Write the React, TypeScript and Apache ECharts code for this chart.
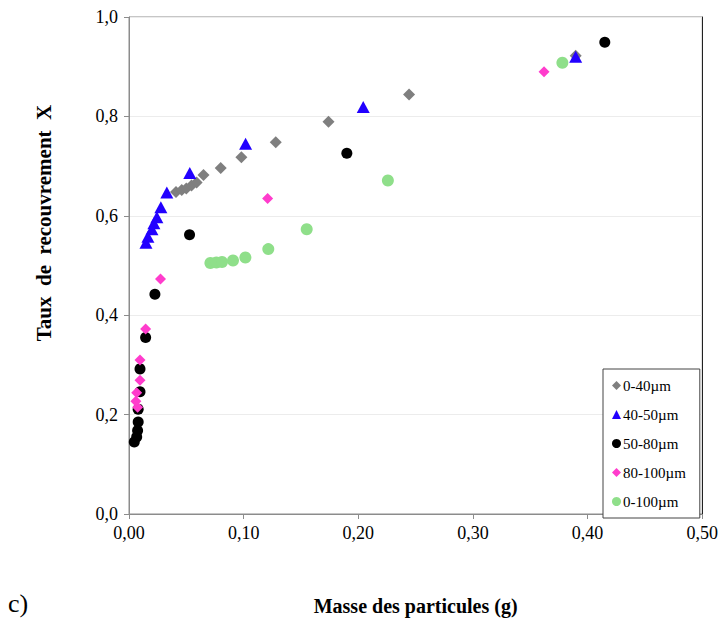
import React, { useEffect, useRef } from "react";
import * as echarts from "echarts";

const seriesNames = ["0-40µm", "40-50µm", "50-80µm", "80-100µm", "0-100µm"];

const s0_40: number[][] = [
  [0.041, 0.648], [0.046, 0.652], [0.050, 0.655], [0.0545, 0.661], [0.059, 0.667],
  [0.065, 0.682], [0.080, 0.696], [0.098, 0.718], [0.128, 0.748], [0.174, 0.789],
  [0.2443, 0.844], [0.3896, 0.922],
];
const s40_50: number[][] = [
  [0.0148, 0.546], [0.0165, 0.558], [0.020, 0.573], [0.0217, 0.585], [0.0243, 0.597],
  [0.0278, 0.617], [0.033, 0.647], [0.053, 0.686], [0.1017, 0.745], [0.2043, 0.819],
  [0.3896, 0.92],
];
const s50_80: number[][] = [
  [0.0046, 0.145], [0.0067, 0.155], [0.0075, 0.168], [0.008, 0.185], [0.008, 0.211],
  [0.0096, 0.246], [0.0096, 0.292], [0.0145, 0.355], [0.0226, 0.442], [0.0528, 0.562],
  [0.19, 0.726], [0.415, 0.949],
];
const s80_100: number[][] = [
  [0.0075, 0.215], [0.006, 0.227], [0.0067, 0.244], [0.0096, 0.269], [0.0096, 0.310],
  [0.0145, 0.372], [0.0275, 0.473], [0.1209, 0.635], [0.362, 0.890],
];
const s0_100: number[][] = [
  [0.071, 0.505], [0.0762, 0.506], [0.0811, 0.507], [0.0907, 0.510], [0.1015, 0.516],
  [0.1215, 0.533], [0.155, 0.573], [0.2258, 0.671], [0.378, 0.908],
];

const FONT = "'Liberation Serif', 'Times New Roman', serif";

export default function App() {
  const ref = useRef<HTMLDivElement>(null);
  useEffect(() => {
    if (!ref.current) return;
    const chart = echarts.init(ref.current, undefined, { renderer: "svg" });
    const mk = (name: string, data: number[][], symbol: string, size: number | number[], color: string) => ({
      name,
      type: "scatter",
      data,
      symbol,
      symbolSize: size,
      itemStyle: { color, opacity: 1 },
      emphasis: { disabled: true },
    });
    chart.setOption({
      animation: false,
      backgroundColor: "#ffffff",
      textStyle: { fontFamily: FONT },
      grid: {
        left: 129, right: 17, top: 17, bottom: 99,
        show: true, borderColor: "#8c8c8c", borderWidth: 1,
      },
      xAxis: {
        type: "value", min: 0, max: 0.5, interval: 0.1,
        name: "Masse des particules (g)", nameLocation: "middle", nameGap: 82,
        nameTextStyle: { fontFamily: FONT, fontSize: 20, fontWeight: "bold", color: "#000" },
        axisLine: { show: true, lineStyle: { color: "#8c8c8c", width: 1 } },
        axisTick: { show: true, length: 5, inside: false, lineStyle: { color: "#8c8c8c" } },
        axisLabel: {
          margin: 10, fontFamily: FONT, fontSize: 18, color: "#000",
          formatter: (v: number) => v.toFixed(2).replace(".", ","),
        },
        splitLine: { show: false },
      },
      yAxis: [
        {
          type: "value", min: 0, max: 1, interval: 0.2,
          axisLine: { show: true, lineStyle: { color: "#8c8c8c", width: 1 } },
          axisTick: { show: true, length: 5, inside: false, lineStyle: { color: "#8c8c8c" } },
          axisLabel: {
            margin: 11, fontFamily: FONT, fontSize: 18, color: "#000",
            formatter: (v: number) => v.toFixed(1).replace(".", ","),
          },
          splitLine: { show: true, lineStyle: { color: "#ececec", width: 1 } },
        },
        {
          type: "value", min: 0, max: 1, position: "right",
          axisLine: { show: true, lineStyle: { color: "#222", width: 1 } },
          axisTick: { show: false }, axisLabel: { show: false }, splitLine: { show: false },
        },
      ],
      legend: {
        orient: "vertical",
        left: 603, top: 369,
        padding: [9, 14, 9, 9],
        itemGap: 14,
        itemWidth: 9, itemHeight: 9,
        backgroundColor: "#fff",
        borderColor: "#444", borderWidth: 1,
        textStyle: { fontFamily: FONT, fontSize: 15, color: "#000", padding: [0, 0, 0, -3] },
        selectedMode: false,
        data: seriesNames,
      },
      series: [
        mk(seriesNames[0], s0_40, "diamond", 12, "#7f7f7f"),
        mk(seriesNames[1], s40_50, "triangle", [13, 12], "#2200ff"),
        mk(seriesNames[2], s50_80, "circle", 11, "#000000"),
        mk(seriesNames[3], s80_100, "diamond", 11, "#ff3ccc"),
        mk(seriesNames[4], s0_100, "circle", 12, "#8fdf8a"),
      ],
      graphic: [
        {
          type: "text", x: 44, y: 223, rotation: Math.PI / 2,
          style: {
            text: "Taux  de  recouvrement  X", fontFamily: FONT, fontSize: 21, fontWeight: "bold",
            fill: "#000", align: "center", verticalAlign: "middle",
          },
        },
        {
          type: "text", x: 8, y: 603,
          style: {
            text: "c)", fontFamily: FONT, fontSize: 26, fill: "#000",
            align: "left", verticalAlign: "middle",
          },
        },
      ],
    });
    return () => chart.dispose();
  }, []);
  return (
    <div
      ref={ref}
      style={{ position: "absolute", left: 0, top: 0, width: 721, height: 621 }}
    />
  );
}
